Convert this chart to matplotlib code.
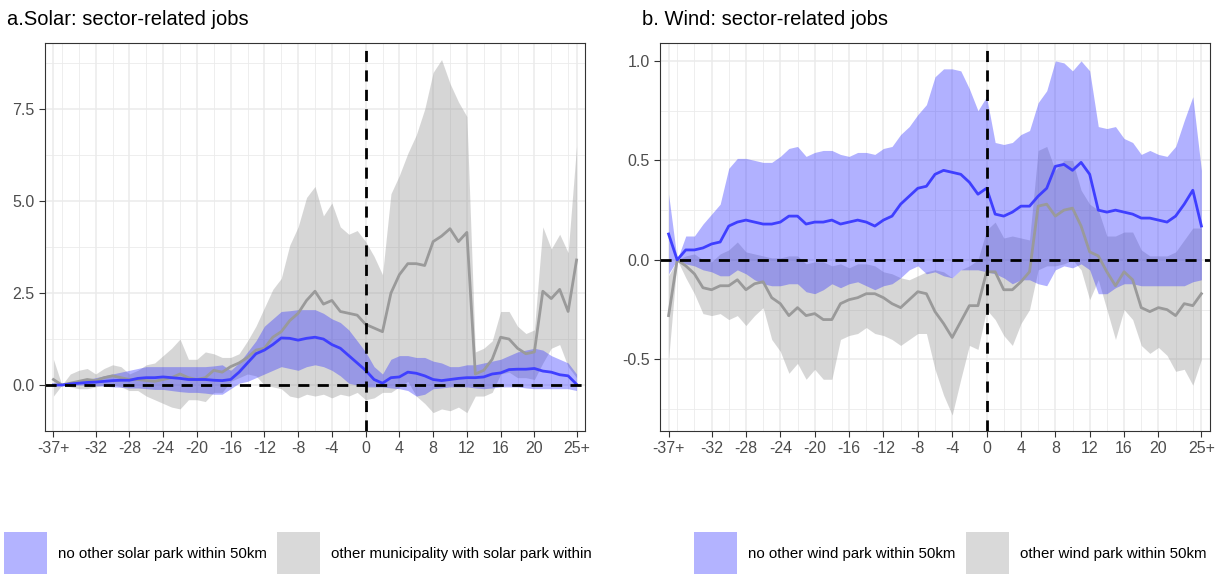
import matplotlib
matplotlib.use("Agg")
import matplotlib.pyplot as plt
import numpy as np
from matplotlib.patches import Rectangle

plt.rcParams['font.family'] = ['Liberation Sans', 'DejaVu Sans']

x = list(range(-37, 26))
tick_pos = [-37, -32, -28, -24, -20, -16, -12, -8, -4, 0, 4, 8, 12, 16, 20, 25]
tick_lab = ['-37+', '-32', '-28', '-24', '-20', '-16', '-12', '-8', '-4', '0', '4', '8', '12', '16', '20', '25+']

solar_blue = [0,0,0.03,0.05,0.07,0.08,0.1,0.12,0.13,0.13,0.18,0.2,0.2,0.22,0.2,0.18,0.15,0.15,0.15,0.13,0.12,0.15,0.35,0.6,0.85,0.95,1.1,1.28,1.27,1.22,1.27,1.3,1.25,1.1,1.0,0.8,0.6,
              0.4,0.15,0.05,0.2,0.22,0.35,0.32,0.25,0.15,0.12,0.15,0.18,0.2,0.2,0.22,0.3,0.33,0.42,0.43,0.43,0.45,0.38,0.35,0.28,0.25,0.02]
solar_blue_hi = [0,0,0.05,0.1,0.15,0.2,0.25,0.3,0.35,0.4,0.45,0.5,0.5,0.5,0.5,0.5,0.5,0.5,0.5,0.52,0.55,0.4,0.6,0.9,1.2,1.6,1.8,2.0,2.02,2.05,2.05,2.05,1.95,1.8,1.7,1.5,1.2,
                 0.9,0.5,0.3,0.7,0.8,0.8,0.75,0.75,0.65,0.6,0.5,0.5,0.55,0.55,0.6,0.65,0.7,0.8,0.9,0.95,1.0,0.95,0.8,0.7,0.6,0.3]
solar_blue_lo = [0,0,0,0,0,-0.02,-0.03,-0.05,-0.06,-0.08,-0.08,-0.1,-0.12,-0.12,-0.15,-0.18,-0.2,-0.2,-0.22,-0.25,-0.25,-0.1,0.05,0.1,0.2,0.3,0.4,0.5,0.45,0.4,0.5,0.55,0.5,0.4,0.25,0.05,0.0,
                 -0.05,-0.05,-0.05,-0.08,-0.1,-0.15,-0.3,-0.25,-0.1,-0.08,-0.05,-0.05,-0.05,-0.08,-0.1,-0.08,-0.05,-0.05,-0.05,-0.08,-0.1,-0.1,-0.1,-0.1,-0.1,-0.15]
solar_grey = [0.15,0,0.05,0.1,0.15,0.12,0.2,0.25,0.2,0.15,0.15,0.12,0.1,0.15,0.2,0.3,0.2,0.15,0.2,0.4,0.35,0.5,0.6,0.75,0.95,1.0,1.3,1.45,1.75,1.95,2.3,2.55,2.2,2.3,2.0,1.95,1.9,
              1.65,1.55,1.45,2.5,3.0,3.3,3.3,3.25,3.9,4.05,4.25,3.9,4.15,0.3,0.4,0.7,1.3,1.25,1.0,0.85,0.9,2.55,2.35,2.6,2.0,3.4]
solar_grey_hi = [0.7,0,0.3,0.4,0.45,0.3,0.45,0.55,0.5,0.3,0.4,0.55,0.6,0.8,1.0,1.25,0.7,0.7,0.9,0.85,0.75,0.75,0.85,1.2,1.6,2.1,2.6,2.9,3.8,4.3,5.1,5.4,4.6,4.95,4.3,4.1,4.2,
                 3.9,3.5,3.0,5.2,5.7,6.3,6.8,7.5,8.5,8.85,8.2,7.7,7.3,0.9,1.0,1.2,2.0,2.0,1.6,1.4,1.5,4.3,3.7,4.1,3.6,6.5]
solar_grey_lo = [-0.3,0,-0.05,-0.1,-0.1,-0.05,0,0,-0.05,-0.15,-0.15,-0.3,-0.4,-0.5,-0.6,-0.65,-0.4,-0.4,-0.45,-0.2,-0.2,0.1,0.2,0.3,0.25,0,-0.05,-0.1,-0.3,-0.35,-0.25,-0.3,-0.25,-0.35,-0.25,-0.3,-0.2,
                 -0.4,-0.35,-0.2,-0.2,-0.05,0.1,-0.3,-0.5,-0.75,-0.65,-0.7,-0.6,-0.75,-0.3,-0.3,-0.2,0.3,0.35,0.2,0.2,0.15,0.6,1.0,1.1,0.5,0.2]

wind_blue = [0.13,0,0.05,0.05,0.06,0.08,0.09,0.17,0.19,0.2,0.19,0.18,0.18,0.19,0.22,0.22,0.18,0.19,0.19,0.2,0.18,0.19,0.2,0.19,0.17,0.2,0.22,0.28,0.32,0.36,0.37,0.43,0.45,0.44,0.43,0.39,0.33,
             0.36,0.23,0.22,0.24,0.27,0.27,0.32,0.36,0.47,0.48,0.45,0.49,0.43,0.25,0.24,0.25,0.24,0.23,0.21,0.21,0.2,0.19,0.22,0.28,0.35,0.17]
wind_blue_hi = [0.33,0,0.12,0.12,0.18,0.23,0.28,0.46,0.51,0.51,0.5,0.49,0.49,0.52,0.56,0.57,0.52,0.54,0.55,0.55,0.53,0.52,0.54,0.54,0.53,0.56,0.57,0.63,0.67,0.73,0.78,0.92,0.96,0.96,0.95,0.86,0.75,
                0.82,0.59,0.58,0.59,0.63,0.65,0.79,0.85,1.0,0.99,0.95,1.0,0.95,0.67,0.66,0.67,0.61,0.59,0.53,0.55,0.53,0.52,0.57,0.7,0.82,0.45]
wind_blue_lo = [-0.07,0,-0.02,-0.03,-0.05,-0.06,-0.08,-0.08,-0.05,-0.07,-0.1,-0.12,-0.13,-0.13,-0.12,-0.12,-0.16,-0.17,-0.15,-0.12,-0.14,-0.12,-0.11,-0.13,-0.15,-0.13,-0.12,-0.09,-0.05,-0.03,-0.07,-0.06,-0.08,-0.09,-0.05,-0.05,-0.05,
                -0.06,-0.07,-0.09,-0.12,-0.1,-0.1,-0.12,-0.13,-0.05,-0.03,-0.04,-0.02,-0.05,-0.17,-0.17,-0.14,-0.12,-0.12,-0.13,-0.13,-0.13,-0.13,-0.13,-0.13,-0.11,-0.1]
wind_grey = [-0.28,0,-0.03,-0.07,-0.14,-0.15,-0.13,-0.13,-0.1,-0.15,-0.12,-0.11,-0.19,-0.22,-0.28,-0.24,-0.28,-0.27,-0.3,-0.3,-0.22,-0.2,-0.19,-0.17,-0.17,-0.19,-0.22,-0.24,-0.2,-0.16,-0.17,-0.26,-0.32,-0.39,-0.31,-0.23,-0.23,
             -0.06,-0.06,-0.15,-0.15,-0.11,-0.06,0.27,0.28,0.22,0.25,0.26,0.17,0.04,0.02,-0.06,-0.13,-0.06,-0.1,-0.24,-0.26,-0.24,-0.25,-0.28,-0.22,-0.23,-0.17]
wind_grey_hi = [-0.08,0,0.02,0.03,0,-0.01,0.03,0.05,0.09,0.04,0.03,0.02,0.01,0.01,0.02,0.02,-0.02,-0.01,-0.01,-0.03,-0.02,-0.04,-0.02,-0.02,-0.03,-0.06,-0.07,-0.09,-0.1,-0.08,-0.06,-0.05,-0.06,-0.09,-0.05,-0.03,0.0,
                0.15,0.19,0.11,0.12,0.11,0.1,0.55,0.57,0.45,0.5,0.5,0.35,0.28,0.25,0.12,0.12,0.14,0.14,0.05,0.02,0.02,0.02,0.04,0.1,0.16,0.16]
wind_grey_lo = [-0.5,0,-0.09,-0.17,-0.27,-0.28,-0.27,-0.3,-0.28,-0.33,-0.28,-0.24,-0.4,-0.46,-0.57,-0.52,-0.6,-0.55,-0.6,-0.6,-0.4,-0.38,-0.37,-0.34,-0.37,-0.38,-0.4,-0.43,-0.4,-0.37,-0.37,-0.55,-0.68,-0.78,-0.6,-0.43,-0.45,
                -0.25,-0.3,-0.38,-0.43,-0.32,-0.25,-0.05,-0.03,-0.03,-0.02,0.0,-0.05,-0.2,-0.1,-0.25,-0.4,-0.25,-0.3,-0.43,-0.47,-0.44,-0.48,-0.56,-0.55,-0.63,-0.5]

legend_labels_solar = ['no other solar park within 50km', 'other municipality with solar park within']
legend_labels_wind = ['no other wind park within 50km', 'other wind park within 50km']

BLUE_FILL = (0.2, 0.2, 1.0, 0.38)
GREY_FILL = (0.55, 0.55, 0.55, 0.35)

W, H = 1223, 574
fig = plt.figure(figsize=(W/100, H/100), dpi=100)
axA = fig.add_axes([45/W, 1-431/H, 540/W, 388/H])
axB = fig.add_axes([660/W, 1-431/H, 550/W, 388/H])

def panel(ax, b, bl, bh, g, gl, gh, ylim, yticks, ylabels, title, tx):
    ax.fill_between(x, gl, gh, color=GREY_FILL, lw=0)
    ax.fill_between(x, bl, bh, color=BLUE_FILL, lw=0)
    ax.plot(x, g, color='#9a9a9a', lw=2)
    ax.plot(x, b, color='#3f3fff', lw=2)
    ax.axhline(0, color='black', ls=(0, (4, 3)), lw=2)
    ax.axvline(0, color='black', ls=(0, (4, 3)), lw=2)
    ax.set_xticks(tick_pos)
    ax.set_xticklabels(tick_lab, fontsize=11.5, color='#4d4d4d')
    ax.set_xticks(range(-36, 26, 2), minor=True)
    ax.set_yticks(yticks)
    ax.set_yticklabels(ylabels, fontsize=11.5, color='#4d4d4d')
    step = yticks[1] - yticks[0]
    minor_y = [yticks[0] - step/2] + [t + step/2 for t in yticks]
    ax.set_yticks(minor_y, minor=True)
    ax.set_xlim(-38.0, 26.0)
    ax.set_ylim(*ylim)
    ax.grid(which='major', color='#ebebeb', lw=1.1)
    ax.grid(which='minor', color='#ebebeb', lw=0.6)
    ax.set_axisbelow(True)
    ax.tick_params(which='minor', length=0)
    ax.tick_params(which='major', color='#333333', length=4)
    for s in ax.spines.values():
        s.set_color('#333333')
    ax.set_title(title, loc='left', fontsize=14.5, x=tx, pad=13)

panel(axA, solar_blue, solar_blue_lo, solar_blue_hi, solar_grey, solar_grey_lo, solar_grey_hi,
      (-1.25, 9.3), [0, 2.5, 5.0, 7.5], ['0.0', '2.5', '5.0', '7.5'], 'a.Solar: sector-related jobs', -0.07)
panel(axB, wind_blue, wind_blue_lo, wind_blue_hi, wind_grey, wind_grey_lo, wind_grey_hi,
      (-0.86, 1.09), [-0.5, 0, 0.5, 1.0], ['-0.5', '0.0', '0.5', '1.0'], 'b. Wind: sector-related jobs', -0.033)

def legend_item(px, label, color):
    fig.patches.append(Rectangle((px/W, 0), 43/W, 42/H, transform=fig.transFigure,
                                 color=color, lw=0))
    fig.text((px+54)/W, 1-554/H, label, fontsize=10.8, va='center', ha='left', color='black')

legend_item(4, legend_labels_solar[0], '#b3b3ff')
legend_item(277, legend_labels_solar[1], '#d9d9d9')
legend_item(694, legend_labels_wind[0], '#b3b3ff')
legend_item(966, legend_labels_wind[1], '#d9d9d9')

fig.savefig('out.png', dpi=100)
